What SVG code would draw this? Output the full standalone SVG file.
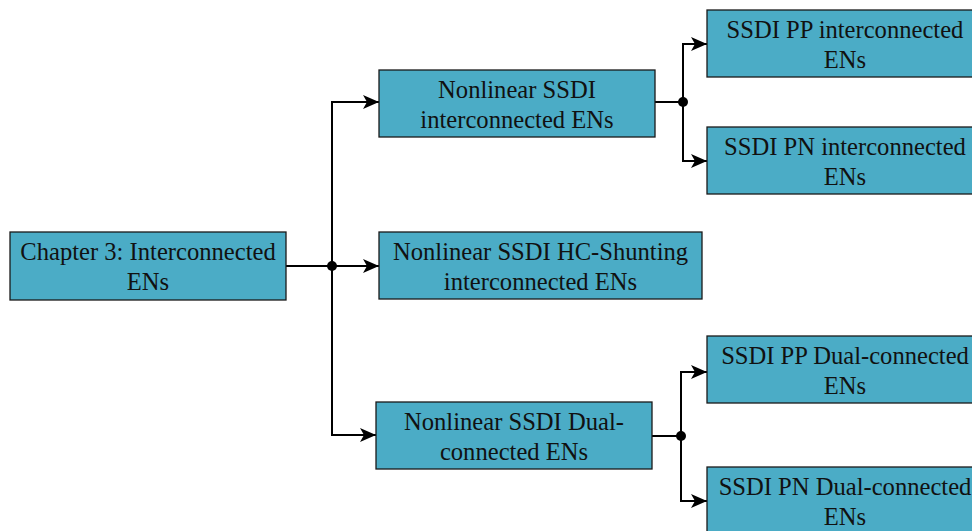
<svg xmlns="http://www.w3.org/2000/svg" width="972" height="531" viewBox="0 0 972 531">
<style>
.box{fill:#4BACC6;stroke:#1a1a1a;stroke-width:1.3}
.t{font-family:"Liberation Serif","Times New Roman",serif;font-size:24.6px;fill:#111;text-anchor:middle}
.c{fill:none;stroke:#000;stroke-width:2}
</style>
<defs>
<marker id="ah" markerWidth="16" markerHeight="14" refX="16" refY="7" orient="auto" markerUnits="userSpaceOnUse">
<path d="M0,0 L16,7 L0,14 L4,7 Z" fill="#000"/>
</marker>
</defs>
<rect width="972" height="531" fill="#fff"/>
<g id="connectors">
<path class="c" d="M286,266 H379" marker-end="url(#ah)"/>
<path class="c" d="M332,266 V102 H379" marker-end="url(#ah)"/>
<path class="c" d="M332,266 V435 H376" marker-end="url(#ah)"/>
<circle cx="332" cy="266" r="5" fill="#000"/>
<path class="c" d="M655,102 H683"/>
<path class="c" d="M683,102 V44 H707" marker-end="url(#ah)"/>
<path class="c" d="M683,102 V161 H707" marker-end="url(#ah)"/>
<circle cx="683" cy="102" r="5" fill="#000"/>
<path class="c" d="M652,436 H681"/>
<path class="c" d="M681,436 V372 H707" marker-end="url(#ah)"/>
<path class="c" d="M681,436 V501 H707" marker-end="url(#ah)"/>
<circle cx="681" cy="436" r="5" fill="#000"/>
</g>
<g id="n-chapter">
<rect class="box" x="10" y="232" width="276" height="68"/>
<text class="t" x="148" y="260">Chapter 3: Interconnected</text>
<text class="t" x="148" y="290">ENs</text>
</g>
<g id="n-interconnected">
<rect class="box" x="379" y="70" width="276" height="67"/>
<text class="t" x="517" y="98">Nonlinear SSDI</text>
<text class="t" x="517" y="128">interconnected ENs</text>
</g>
<g id="n-hc">
<rect class="box" x="379" y="232" width="323" height="67"/>
<text class="t" x="540.5" y="260">Nonlinear SSDI HC-Shunting</text>
<text class="t" x="540.5" y="290">interconnected ENs</text>
</g>
<g id="n-dual">
<rect class="box" x="376" y="402" width="276" height="67"/>
<text class="t" x="514" y="430">Nonlinear SSDI Dual-</text>
<text class="t" x="514" y="460">connected ENs</text>
</g>
<g id="n-pp-inter">
<rect class="box" x="707" y="10" width="276" height="67"/>
<text class="t" x="845" y="38">SSDI PP interconnected</text>
<text class="t" x="845" y="68">ENs</text>
</g>
<g id="n-pn-inter">
<rect class="box" x="707" y="127" width="276" height="67"/>
<text class="t" x="845" y="155">SSDI PN interconnected</text>
<text class="t" x="845" y="185">ENs</text>
</g>
<g id="n-pp-dual">
<rect class="box" x="707" y="336" width="276" height="67"/>
<text class="t" x="845" y="364">SSDI PP Dual-connected</text>
<text class="t" x="845" y="394">ENs</text>
</g>
<g id="n-pn-dual">
<rect class="box" x="707" y="467" width="276" height="67"/>
<text class="t" x="845" y="495">SSDI PN Dual-connected</text>
<text class="t" x="845" y="525">ENs</text>
</g>
</svg>
